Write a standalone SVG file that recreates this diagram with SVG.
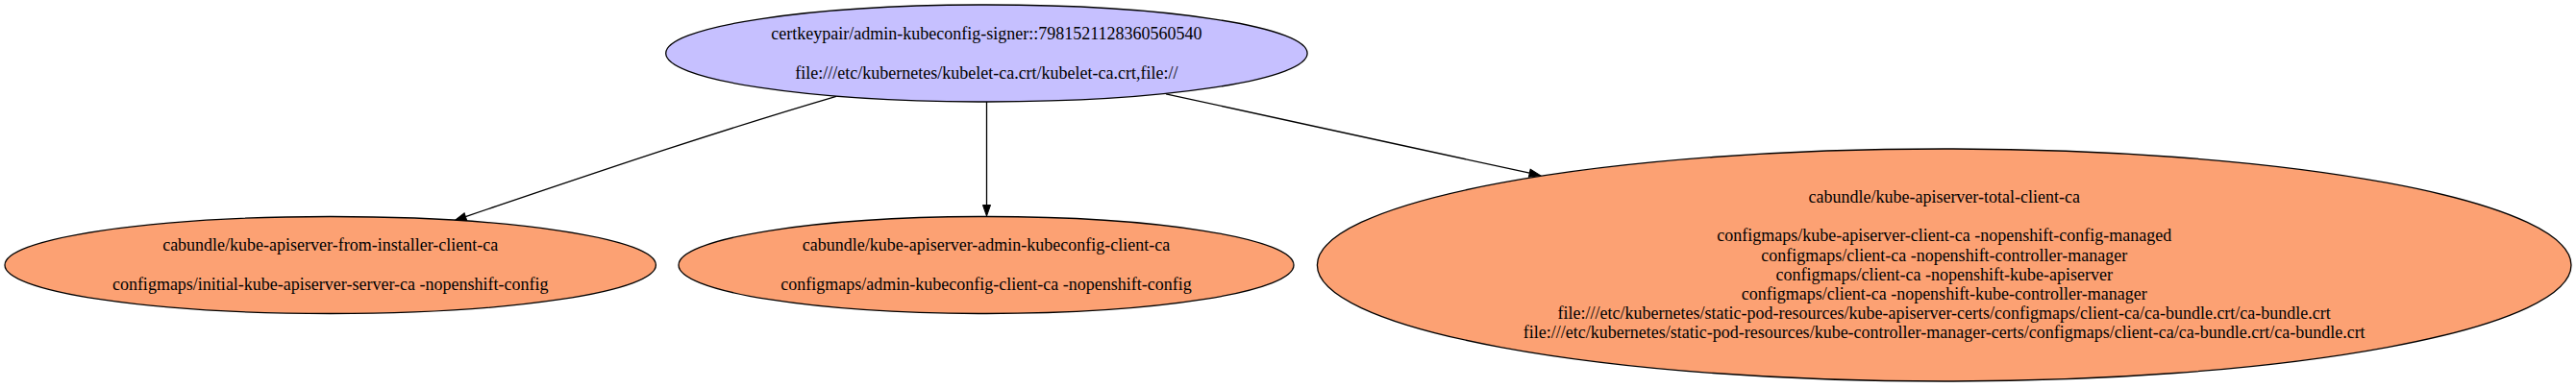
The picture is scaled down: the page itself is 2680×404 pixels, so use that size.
<svg xmlns="http://www.w3.org/2000/svg" width="2680" height="404" viewBox="0 0 2680 404">
<defs>
<style>
.node ellipse{stroke:#000;stroke-width:1.3}
.signer{fill:#c6c0ff}
.bundle{fill:#fca173}
text{font-family:"Liberation Serif","Times New Roman",serif;font-size:18px;fill:#000;text-anchor:middle}
.edge{fill:none;stroke:#000;stroke-width:1.3}
</style>
<marker id="arrow" markerUnits="userSpaceOnUse" markerWidth="14" markerHeight="10" viewBox="-1 -1 14 10.4" refX="0" refY="4.2" orient="auto">
<path d="M0,0 L12,4.2 L0,8.4 Z" fill="#000" stroke="#000" stroke-width="1"/>
</marker>
</defs>
<rect width="2680" height="404" fill="#fff"/>
<g id="edges">
<path class="edge" d="M870,100.3 C740,138.5 614.4,181.6 484.4,225.6" marker-end="url(#arrow)"/>
<path class="edge" d="M1026.5,106 L1026.5,213.5" marker-end="url(#arrow)"/>
<path class="edge" d="M1213,97.8 C1320,121 1470,154 1591.3,180.2" marker-end="url(#arrow)"/>
</g>
<g id="node-signer" class="node">
<ellipse class="signer" cx="1026.4" cy="55.5" rx="333.7" ry="50.5"/>
<text x="1026.4" y="40.7">certkeypair/admin-kubeconfig-signer::7981521128360560540</text>
<text x="1026.4" y="81.7">file:///etc/kubernetes/kubelet-ca.crt/kubelet-ca.crt,file://</text>
</g>
<g id="node-from-installer" class="node">
<ellipse class="bundle" cx="343.7" cy="276" rx="338.7" ry="50.5"/>
<text x="343.7" y="261">cabundle/kube-apiserver-from-installer-client-ca</text>
<text x="343.7" y="301.7">configmaps/initial-kube-apiserver-server-ca -nopenshift-config</text>
</g>
<g id="node-admin-kubeconfig" class="node">
<ellipse class="bundle" cx="1026" cy="276" rx="320" ry="50.5"/>
<text x="1026" y="261">cabundle/kube-apiserver-admin-kubeconfig-client-ca</text>
<text x="1026" y="301.7">configmaps/admin-kubeconfig-client-ca -nopenshift-config</text>
</g>
<g id="node-total-client" class="node">
<ellipse class="bundle" cx="2022.7" cy="276" rx="652.3" ry="121"/>
<text x="2022.7" y="211">cabundle/kube-apiserver-total-client-ca</text>
<text x="2022.7" y="251.4">configmaps/kube-apiserver-client-ca -nopenshift-config-managed</text>
<text x="2022.7" y="271.6">configmaps/client-ca -nopenshift-controller-manager</text>
<text x="2022.7" y="291.8">configmaps/client-ca -nopenshift-kube-apiserver</text>
<text x="2022.7" y="312">configmaps/client-ca -nopenshift-kube-controller-manager</text>
<text x="2022.7" y="332.2">file:///etc/kubernetes/static-pod-resources/kube-apiserver-certs/configmaps/client-ca/ca-bundle.crt/ca-bundle.crt</text>
<text x="2022.7" y="352.4">file:///etc/kubernetes/static-pod-resources/kube-controller-manager-certs/configmaps/client-ca/ca-bundle.crt/ca-bundle.crt</text>
</g>
</svg>
